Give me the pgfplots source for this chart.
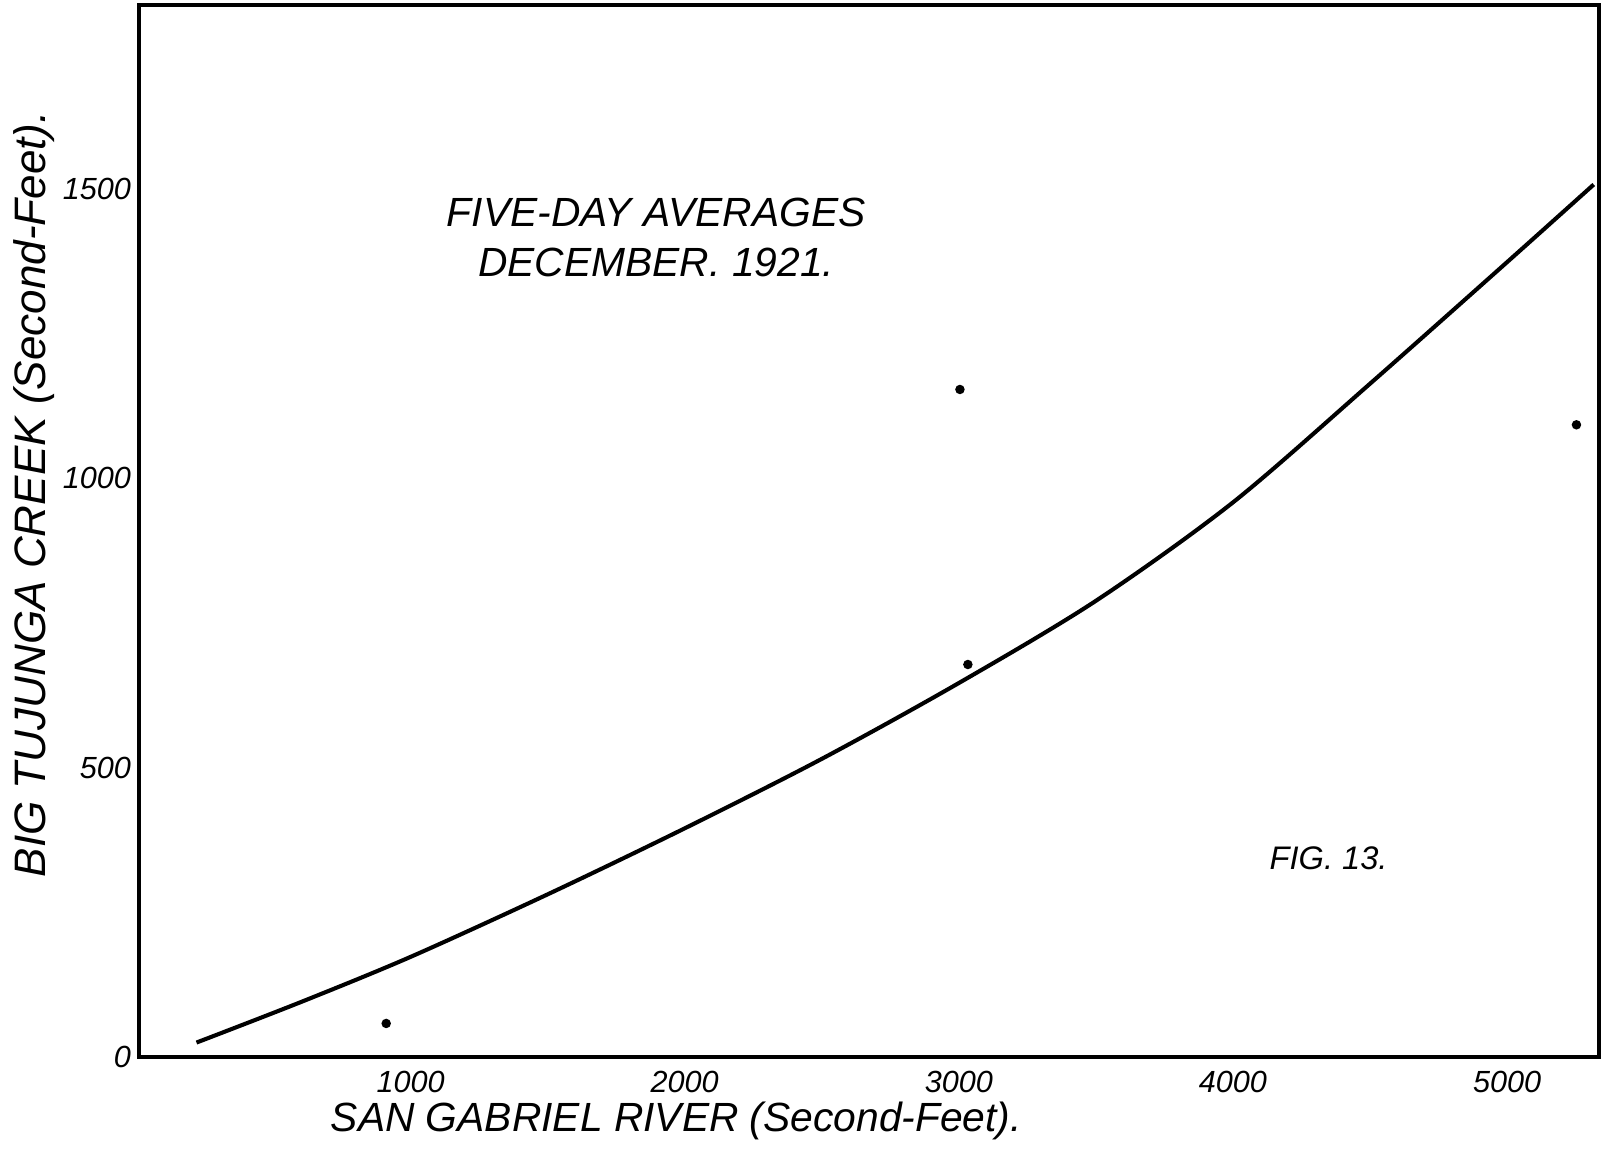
\documentclass[border=0pt]{standalone}
\usepackage{fontspec}
\setmainfont{Liberation Sans}
\usepackage{pgfplots}
\pgfplotsset{compat=1.18}

% Five-day mean discharges, December 1921 (second-feet)
\pgfplotstableread{
x     y
911   58
3004  1153
3033  678
5253  1092
}\fivedaypoints

% Relation curve drawn through the averages
\pgfplotstableread{
x     y
219   25
600   95
1000  173
1500  281
2000  395
2500  515
3000  646
3500  788
4000  958
4500  1163
5000  1373
5316  1507
}\relationcurve

\begin{document}
\begin{tikzpicture}
\begin{axis}[
  scale only axis,
  width=358pt, height=258pt,
  xmin=10, xmax=5335, ymin=0, ymax=1817,
  axis line style={line width=0.85pt},
  xtick={1000,2000,3000,4000,5000},
  ytick={0,500,1000,1500},
  major tick length=0pt,
  /pgf/number format/assume math mode=true,
  /pgf/number format/set thousands separator={},
  tick label style={font=\fontsize{7.5}{9}\selectfont\itshape},
  yticklabel style={xshift=1.5pt},
  xlabel={SAN GABRIEL RIVER (Second-Feet).},
  ylabel={BIG TUJUNGA CREEK (Second-Feet).},
  xlabel style={at={(axis description cs:0.368,-0.061)}, anchor=center,
                font=\fontsize{10}{12}\selectfont\itshape},
  ylabel style={at={(axis description cs:-0.072,0.535)}, anchor=center,
                font=\fontsize{10.8}{12}\selectfont\itshape},
  clip=false,
]
  % page frame around the plate
  \path (rel axis cs:-0.0929,-0.092) rectangle (rel axis cs:1.0021,1.0048);

  \addplot[black, line width=1pt, smooth, tension=0.5] table {\relationcurve};
  \addplot[only marks, mark=*, mark size=0.95pt, black] table {\fivedaypoints};

  \node[align=center, font=\fontsize{10}{12.3}\selectfont\itshape]
    at (axis cs:1896,1416) {FIVE-DAY AVERAGES\\DECEMBER. 1921.};
  \node[font=\fontsize{8}{10}\selectfont\itshape] at (axis cs:4349,343) {FIG. 13.};
\end{axis}
\end{tikzpicture}
\end{document}
